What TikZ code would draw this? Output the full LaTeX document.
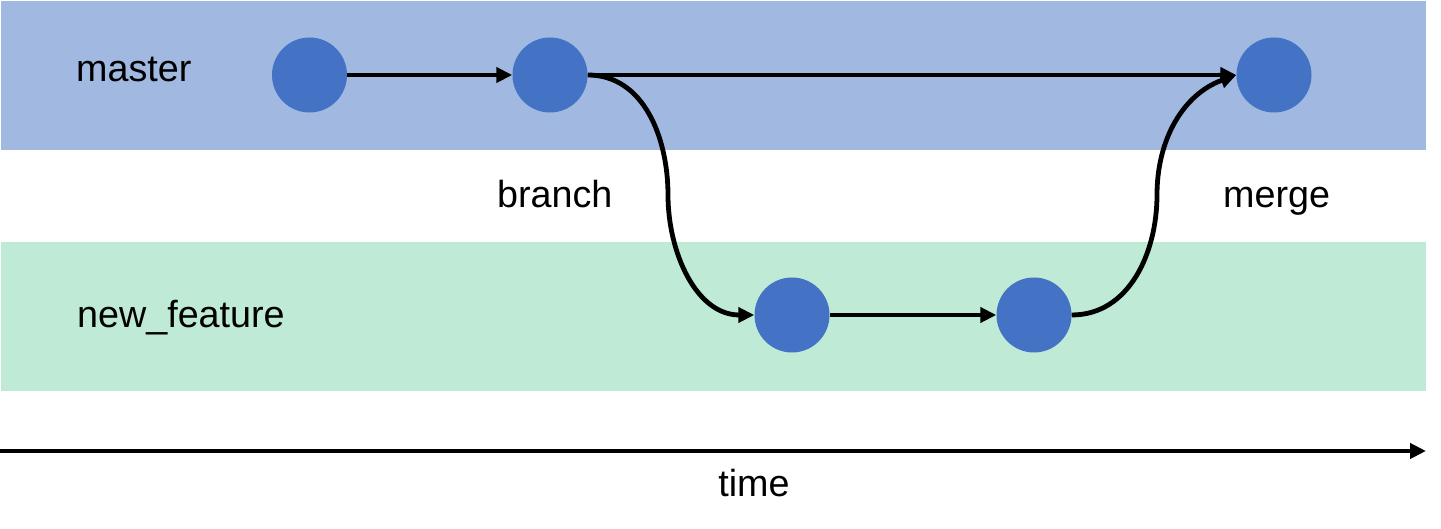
\documentclass[tikz,border=0pt]{standalone}
\usepackage{fontspec}
\setmainfont{Liberation Sans}
\usetikzlibrary{arrows.meta}
\definecolor{bandblue}{HTML}{A1B8E1}
\definecolor{bandgreen}{HTML}{BFEAD5}
\definecolor{commit}{HTML}{4472C4}
\tikzset{
  commitnode/.style={circle,fill=commit,minimum size=75pt,inner sep=0pt},
  lbl/.style={font=\fontsize{37.7}{45}\selectfont,inner sep=0pt},
  arr/.style={line width=4.8pt,-{Triangle[length=16pt,width=15pt]}},
}
\begin{document}
\begin{tikzpicture}[x=1pt,y=1pt]
\useasboundingbox (0,0) rectangle (1441,529);
\fill[bandblue] (1,379) rectangle (1426,528);
\fill[bandgreen] (1,138) rectangle (1426,287);
\node[commitnode] (c1) at (309.5,454) {};
\node[commitnode] (c2) at (550,454) {};
\node[commitnode] (c3) at (1274,454) {};
\node[commitnode] (c4) at (792,214) {};
\node[commitnode] (c5) at (1034,214) {};
\coordinate (bmid) at (668,334);
\coordinate (mmid) at (1157,334);
\node[lbl,anchor=base west] (lmaster) at (76,447) {master};
\node[lbl,anchor=base west] (lnew) at (77,201) {new\_feature};
\node[lbl,anchor=base west] (lbranch) at (497,321) {branch};
\node[lbl,anchor=base west] (lmerge) at (1223,321) {merge};
\node[lbl,anchor=base] (ltime) at (754,32) {time};
\coordinate (tstart) at (0,78);
\coordinate (tend) at (1426,78);
\draw[arr] (c1) -- (c2);
\draw[arr] (c2) -- (c3);
\draw[arr] (c4) -- (c5);
\draw[arr] (c2.east) to[out=0,in=90] (bmid) to[out=-90,in=180] (c4.west);
\draw[arr] (c5.east) to[out=0,in=-90] (mmid) to[out=90,in=200] (c3.west);
\draw[arr] (tstart) -- (tend);
\end{tikzpicture}
\end{document}
